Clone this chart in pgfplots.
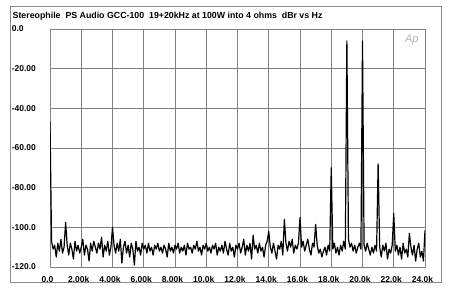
\documentclass[border=0pt]{standalone}
\usepackage{pgfplots}
\pgfplotsset{compat=1.18}
\usepackage{fontspec}
\setmainfont{Liberation Sans}
\begin{document}
\begin{tikzpicture}
\fill[white] (0bp,0bp) rectangle (450bp,295bp);
\draw[black!45, line width=1bp] (10bp,12bp) rectangle (441bp,288bp);
\node[anchor=base west, inner sep=0pt, font=\fontsize{8.8bp}{10bp}\selectfont\bfseries] at (12.5bp,276bp) {Stereophile\ \ PS Audio GCC-100\ \ 19+20kHz at 100W into 4 ohms\ \ dBr vs Hz};
\begin{axis}[at={(50bp,28bp)}, anchor=south west, scale only axis,
  width=375bp, height=238bp,
  xmin=0, xmax=24000, ymin=-120, ymax=0,
  xtick={0,2000,...,24000},
  xticklabels={0.0,2.00k,4.00k,6.00k,8.00k,10.0k,12.0k,14.0k,16.0k,18.0k,20.0k,22.0k,24.0k},
  ytick={-120,-100,...,0},
  yticklabels={-120.0,-100.0,-80.00,-60.00,-40.00,-20.00,0.0},
  scaled x ticks=false,
  grid=major,
  major grid style={black!50, line width=0.6bp},
  axis line style={black!50, line width=0.7bp},
  tick style={draw=none},
  ticklabel style={font=\fontsize{8.5bp}{10bp}\selectfont\bfseries},
  xticklabel style={inner sep=0pt, anchor=north, yshift=-9bp, xshift=-2.5bp},
  yticklabel style={anchor=east, text width=34bp, align=left, inner sep=0pt, xshift=-4bp},
  clip=true,
]
\addplot[black, line width=1.2bp, line join=round] coordinates {
(0,-46.7)(100,-107)(200,-111)(300,-109)(400,-115)(500,-108)(600,-112)(700,-106)(800,-113)(900,-110)
(1000,-97.5)(1100,-109)(1200,-114)(1300,-108)(1400,-111)(1500,-116)(1600,-107)(1700,-112)(1800,-109)(1900,-113)
(2000,-110)(2100,-106)(2200,-114)(2300,-109)(2400,-111)(2500,-117)(2600,-108)(2700,-112)(2800,-107)(2900,-110)
(3000,-113)(3100,-108)(3200,-111)(3300,-105)(3400,-115)(3500,-109)(3600,-112)(3700,-107)(3800,-114)(3900,-110)
(4000,-100)(4100,-109)(4200,-113)(4300,-108)(4400,-112)(4500,-106)(4600,-118)(4700,-110)(4800,-107)(4900,-113)
(5000,-109)(5100,-115)(5200,-108)(5300,-111)(5400,-119)(5500,-107)(5600,-112)(5700,-110)(5800,-114)(5900,-108)
(6000,-111)(6100,-109)(6200,-113)(6300,-108)(6400,-112)(6500,-110)(6600,-114)(6700,-109)(6800,-111)(6900,-108)
(7000,-112)(7100,-110)(7200,-113)(7300,-109)(7400,-111)(7500,-115)(7600,-108)(7700,-112)(7800,-110)(7900,-113)
(8000,-109)(8100,-111)(8200,-108)(8300,-113)(8400,-110)(8500,-112)(8600,-109)(8700,-114)(8800,-108)(8900,-111)
(9000,-110)(9100,-113)(9200,-109)(9300,-111)(9400,-107)(9500,-112)(9600,-110)(9700,-114)(9800,-109)(9900,-111)
(10000,-108)(10100,-112)(10200,-110)(10300,-113)(10400,-109)(10500,-111)(10600,-108)(10700,-114)(10800,-110)(10900,-112)
(11000,-109)(11100,-113)(11200,-107)(11300,-111)(11400,-114)(11500,-108)(11600,-112)(11700,-110)(11800,-115)(11900,-109)
(12000,-111)(12100,-108)(12200,-113)(12300,-110)(12400,-106)(12500,-114)(12600,-109)(12700,-112)(12800,-108)(12900,-116)
(13000,-104)(13100,-111)(13200,-109)(13300,-113)(13400,-108)(13500,-112)(13600,-110)(13700,-115)(13800,-109)(13900,-107)
(14000,-102)(14100,-110)(14200,-113)(14300,-108)(14400,-112)(14500,-116)(14600,-109)(14700,-111)(14800,-107)(14900,-114)
(15000,-96)(15100,-108)(15200,-112)(15300,-107)(15400,-110)(15500,-106)(15600,-113)(15700,-109)(15800,-111)(15900,-108)
(16000,-95)(16100,-110)(16200,-107)(16300,-112)(16400,-109)(16500,-106)(16600,-111)(16700,-114)(16800,-108)(16900,-110)
(17000,-98.5)(17100,-109)(17200,-113)(17300,-111)(17400,-115)(17500,-112)(17600,-110)(17700,-114)(17800,-109)(17900,-112)
(18000,-70)(18100,-111)(18200,-108)(18300,-113)(18400,-110)(18500,-114)(18600,-109)(18700,-112)(18800,-107)(18900,-111)
(19000,-6)(19100,-106)(19200,-110)(19300,-108)(19400,-112)(19500,-109)(19600,-113)(19700,-110)(19800,-108)(19900,-111)
(20000,-6)(20100,-109)(20200,-112)(20300,-108)(20400,-111)(20500,-114)(20600,-110)(20700,-113)(20800,-109)(20900,-112)
(21000,-68)(21100,-110)(21200,-115)(21300,-109)(21400,-112)(21500,-108)(21600,-116)(21700,-111)(21800,-113)(21900,-109)
(22000,-93)(22100,-112)(22200,-109)(22300,-114)(22400,-110)(22500,-116)(22600,-108)(22700,-113)(22800,-111)(22900,-115)
(23000,-103)(23100,-110)(23200,-114)(23300,-109)(23400,-117)(23500,-111)(23600,-108)(23700,-115)(23800,-112)(23900,-117)
(24000,-101.5)
};
\node[font=\fontsize{11bp}{12bp}\selectfont\itshape, text=black!30, inner sep=0pt] at (rel axis cs:0.965,0.955) {Ap};
\end{axis}
\end{tikzpicture}
\end{document}
